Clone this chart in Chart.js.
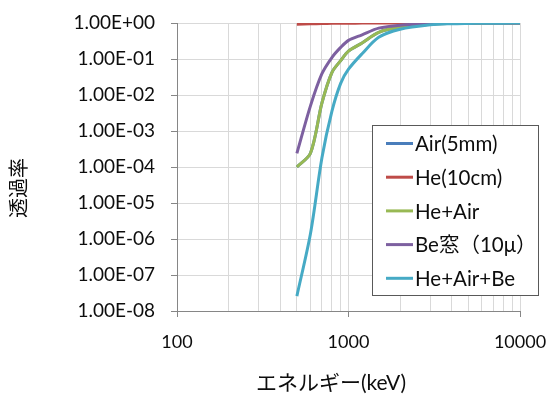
<!DOCTYPE html>
<html>
<head>
<meta charset="utf-8">
<script src="https://cdn.jsdelivr.net/npm/chart.js@4.4.1/dist/chart.umd.min.js"></script>
<style>
    body { margin: 0; background: #ffffff; }
    canvas { display: block; }
</style>
</head>
<body>
<canvas id="chart" width="550" height="396"></canvas>
<script>
const energies = [500, 600, 700, 800, 900, 1000, 1200, 1500, 2000, 3000, 4000, 5000, 6000, 8000, 10000];

// Transmission per series (Air sits right under He+Air and is hidden by it)
const airVals    = [1.0e-4, 2.4e-4, 6.0e-3, 0.042, 0.09, 0.165, 0.28, 0.55, 0.77, 0.93, 0.97, 0.985, 0.99, 0.995, 0.997];
const heVals     = [0.92, 0.95, 0.97, 0.98, 0.985, 0.99, 0.993, 0.995, 0.998, 0.999, 1, 1, 1, 1, 1];
const heAirVals  = [1.0e-4, 2.4e-4, 6.0e-3, 0.042, 0.09, 0.165, 0.28, 0.55, 0.77, 0.93, 0.97, 0.985, 0.99, 0.995, 0.997];
const beVals     = [2.4e-4, 5.0e-3, 0.039, 0.11, 0.21, 0.33, 0.47, 0.72, 0.87, 0.96, 0.985, 0.99, 0.995, 0.997, 0.998];
const heAirBeVals = [2.6e-8, 1.4e-6, 1.8e-4, 3.5e-3, 0.021, 0.052, 0.14, 0.40, 0.67, 0.89, 0.955, 0.975, 0.985, 0.99, 0.995];

const seriesNames  = ['Air(5mm)', 'He(10cm)', 'He+Air', 'Be窓（10μ）', 'He+Air+Be'];
const seriesValues = [airVals, heVals, heAirVals, beVals, heAirBeVals];
const seriesColors = ['#4a7ebb', '#be4b48', '#98b954', '#7d60a0', '#46aac5'];

// Axis ticks
const xMajorTicks = [100, 1000, 10000];
const yTicks = [1e-8, 1e-7, 1e-6, 1e-5, 1e-4, 1e-3, 1e-2, 1e-1, 1];

const xTitle = 'エネルギー(keV)';
const yTitle = '透過率';

const FONT = "Lato, 'Noto Sans CJK JP', sans-serif";
const TEXT_COLOR = '#0d0d0d';
const GRID_COLOR = '#d9d9d9';
const AXIS_COLOR = '#868686';

function sciLabel(v) {
    const [m, e] = v.toExponential(2).split('e');
    const exp = parseInt(e, 10);
    const sign = exp < 0 ? '-' : '+';
    return m + 'E' + sign + String(Math.abs(exp)).padStart(2, '0');
}

// Axis titles and the boxed legend inside the plot
const overlayPlugin = {
    id: 'overlay',
    afterDraw(chart) {
        const ctx = chart.ctx;

        ctx.save();
        ctx.fillStyle = TEXT_COLOR;
        ctx.textAlign = 'center';
        ctx.textBaseline = 'middle';
        ctx.font = '21px ' + FONT;
        ctx.fillText(xTitle, 331, 383);
        ctx.translate(18, 188);
        ctx.rotate(-Math.PI / 2);
        ctx.font = "20px 'Noto Sans CJK JP'";
        ctx.fillText(yTitle, 0, 0);
        ctx.restore();

        const box = { x: 372.5, y: 125.5, w: 166, h: 170 };
        ctx.save();
        ctx.fillStyle = '#ffffff';
        ctx.fillRect(box.x, box.y, box.w, box.h);
        ctx.strokeStyle = '#595959';
        ctx.lineWidth = 1;
        ctx.strokeRect(box.x, box.y, box.w, box.h);

        ctx.font = '20.5px ' + FONT;
        ctx.textBaseline = 'middle';
        ctx.textAlign = 'left';
        seriesNames.forEach((name, i) => {
            const y = 143.5 + i * 33.7;
            ctx.strokeStyle = seriesColors[i];
            ctx.lineWidth = 3;
            ctx.beginPath();
            ctx.moveTo(386, y);
            ctx.lineTo(413, y);
            ctx.stroke();
            ctx.fillStyle = TEXT_COLOR;
            ctx.fillText(name, 415, y + 1);
        });
        ctx.restore();
    }
};

const datasets = seriesNames.map((name, i) => ({
    label: name,
    data: energies.map((e, j) => ({ x: e, y: seriesValues[i][j] })),
    borderColor: seriesColors[i],
    backgroundColor: seriesColors[i],
    borderWidth: 3,
    borderJoinStyle: 'round',
    pointRadius: 0,
    tension: 0.3,
    order: seriesNames.length - i
}));

new Chart(document.getElementById('chart'), {
    type: 'line',
    data: { datasets },
    plugins: [overlayPlugin],
    options: {
        responsive: false,
        animation: false,
        layout: { padding: { top: 23, right: 30, left: 0, bottom: 0 } },
        plugins: {
            legend: { display: false },
            tooltip: { enabled: false }
        },
        scales: {
            x: {
                type: 'logarithmic',
                min: 100,
                max: 10000,
                afterBuildTicks(scale) {
                    const ticks = [];
                    for (let d = 100; d < 10000; d *= 10) {
                        for (let k = 1; k < 10; k++) ticks.push({ value: d * k });
                    }
                    ticks.push({ value: 10000 });
                    scale.ticks = ticks;
                },
                afterFit(scale) {
                    scale.height = 85;
                    scale.paddingLeft = 0;
                    scale.paddingRight = 0;
                },
                grid: {
                    color: GRID_COLOR,
                    tickLength: 6,
                    tickColor: (c) => xMajorTicks.includes(c.tick && c.tick.value) ? AXIS_COLOR : 'rgba(0,0,0,0)'
                },
                border: { color: AXIS_COLOR },
                ticks: {
                    autoSkip: false,
                    maxRotation: 0,
                    padding: 14,
                    color: TEXT_COLOR,
                    font: { family: FONT, size: 18 },
                    callback: (v) => xMajorTicks.includes(v) ? String(v) : ''
                }
            },
            y: {
                type: 'logarithmic',
                min: 1e-8,
                max: 1,
                afterBuildTicks(scale) {
                    scale.ticks = yTicks.map(v => ({ value: v }));
                },
                afterFit(scale) {
                    scale.width = 177;
                    scale.paddingTop = 0;
                    scale.paddingBottom = 0;
                },
                grid: {
                    color: GRID_COLOR,
                    tickLength: 6,
                    tickColor: AXIS_COLOR
                },
                border: { color: AXIS_COLOR },
                ticks: {
                    padding: 16,
                    color: TEXT_COLOR,
                    font: { family: FONT, size: 19 },
                    callback: (v) => sciLabel(v)
                }
            }
        }
    }
});
</script>
</body>
</html>
